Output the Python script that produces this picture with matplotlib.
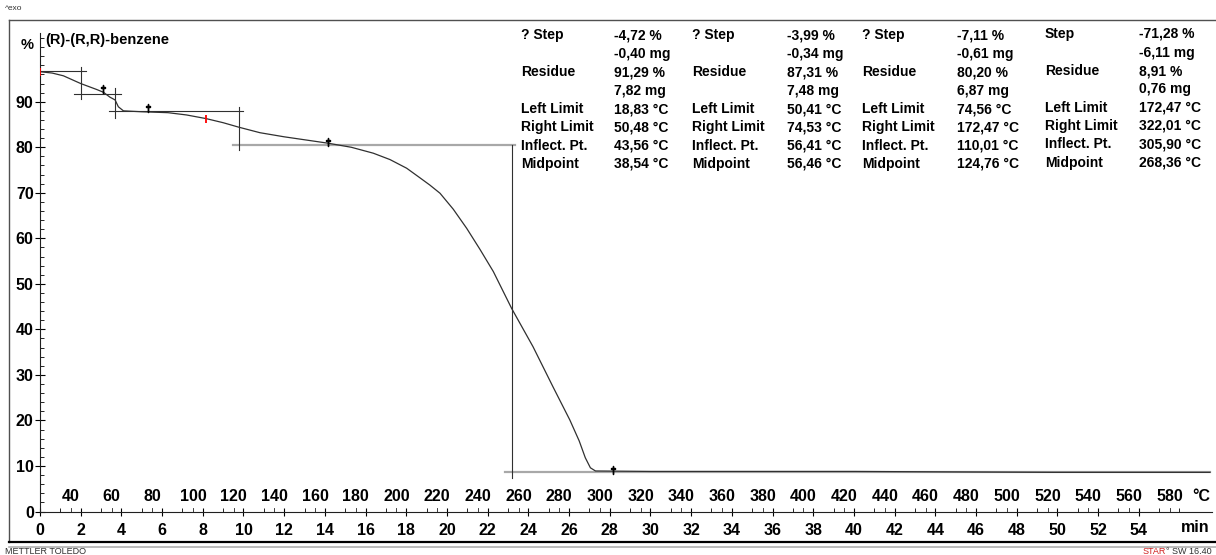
import matplotlib
matplotlib.use('Agg')
import matplotlib.pyplot as plt
from matplotlib.lines import Line2D

plt.rcParams['font.family'] = ['Liberation Sans', 'DejaVu Sans']

# TGA curve: time (min) and mass (%)
t_min = [0, 0.6, 1.15, 2.0, 2.78, 3.11, 3.44, 3.69, 3.85, 4.1, 5.0, 6.29, 7.2, 8.16,
         9.0, 9.78, 10.81, 12.0, 14.15, 15.3, 16.38, 17.2, 18.02, 18.67, 19.16,
         19.66, 20.31, 20.97, 21.62, 22.28, 23.18, 24.23, 25.21, 26.04, 26.5, 26.8,
         27.05, 27.3, 30.0, 40.0, 44.6, 49.8, 57.5]
mass = [96.6, 96.3, 95.7, 94.0, 92.7, 92.1, 91.0, 90.4, 88.9, 88.0, 87.8, 87.6,
        87.1, 86.3, 85.4, 84.4, 83.2, 82.3, 80.9, 80.0, 78.7, 77.3, 75.4, 73.3,
        71.7, 69.9, 66.4, 62.2, 57.6, 52.7, 44.6, 36.2, 27.4, 20.1, 15.5, 11.8,
        9.6, 8.9, 8.8, 8.8, 8.7, 8.6, 8.6]

# evaluation construction lines (t0, t1, y0, y1)
cross_lines = [
    (0, 2.26, 96.75, 96.75), (2.01, 2.01, 97.6, 90.6),
    (1.67, 4.0, 91.8, 91.8), (3.71, 3.71, 93.0, 86.4),
    (3.39, 10.0, 87.96, 87.96), (9.78, 9.78, 88.8, 79.4),
    (23.19, 23.19, 80.5, 7.4),
]
baselines = [(9.48, 23.33, 80.5, 80.5), (22.85, 57.5, 8.68, 8.68)]

red_t = [0, 8.16]
red_m = [96.6, 86.3]
mark_t = [3.1, 5.31, 14.15, 28.16]
mark_m = [92.9, 88.6, 81.2, 9.1]

time_ticks = list(range(0, 56, 2))
temp_ticks = list(range(40, 600, 20))
temp_start, heat_rate = 24.8, 10.0

y_ticks = list(range(0, 100, 10))

blocks = [
    (["? Step", "", "Residue", "", "Left Limit", "Right Limit", "Inflect. Pt.", "Midpoint"],
     ["-4,72 %", "-0,40 mg", "91,29 %", "7,82 mg", "18,83 °C", "50,48 °C", "43,56 °C", "38,54 °C"]),
    (["? Step", "", "Residue", "", "Left Limit", "Right Limit", "Inflect. Pt.", "Midpoint"],
     ["-3,99 %", "-0,34 mg", "87,31 %", "7,48 mg", "50,41 °C", "74,53 °C", "56,41 °C", "56,46 °C"]),
    (["? Step", "", "Residue", "", "Left Limit", "Right Limit", "Inflect. Pt.", "Midpoint"],
     ["-7,11 %", "-0,61 mg", "80,20 %", "6,87 mg", "74,56 °C", "172,47 °C", "110,01 °C", "124,76 °C"]),
    (["Step", "", "Residue", "", "Left Limit", "Right Limit", "Inflect. Pt.", "Midpoint"],
     ["-71,28 %", "-6,11 mg", "8,91 %", "0,76 mg", "172,47 °C", "322,01 °C", "305,90 °C", "268,36 °C"]),
]

W, H = 1216, 555
fig = plt.figure(figsize=(W / 100, H / 100), dpi=100)
ax = fig.add_axes([40 / W, 43.5 / H, (1212 - 40) / W, (522 - 43.5) / H])
ax.set_xlim(0, 57.6)
ax.set_ylim(0, 105.1)

for s in ['top', 'right']:
    ax.spines[s].set_visible(False)
for s in ['left', 'bottom']:
    ax.spines[s].set_linewidth(0.8)
    ax.spines[s].set_color('#202020')

for x0, x1, y0, y1 in baselines:
    ax.plot([x0, x1], [y0, y1], color='#a8a8a8', lw=1.6, zorder=1)
for x0, x1, y0, y1 in cross_lines:
    ax.plot([x0, x1], [y0, y1], color='#303030', lw=0.8, zorder=2)

ax.plot(t_min, mass, color='#303030', lw=0.9, zorder=3)
ax.plot(red_t, red_m, ls='none', marker='|', ms=6, mew=1.3, color='red', zorder=4)
ax.plot(mark_t, mark_m, ls='none', marker='$\u2020$', ms=6, color='black', zorder=4)

fs = 11.5
ax.set_yticks(y_ticks)
ax.set_yticks(range(0, 106, 2), minor=True)
ax.set_xticks(time_ticks)
ax.set_xticks(range(0, 57, 1), minor=True)
ax.tick_params(axis='y', which='major', direction='inout', length=7, width=0.8, pad=1)
ax.tick_params(axis='y', which='minor', direction='in', length=3, width=0.6)
ax.tick_params(axis='x', which='major', direction='inout', length=6, width=0.8, pad=5)
ax.tick_params(axis='x', which='minor', direction='in', length=3, width=0.6)
for lab in ax.get_xticklabels() + ax.get_yticklabels():
    lab.set_fontweight('bold')
    lab.set_fontsize(fs)

# temperature scale drawn above the time axis
for T in temp_ticks:
    tt = (T - temp_start) / heat_rate
    ax.text(tt, 3.2, str(T), ha='center', va='center', fontsize=fs, fontweight='bold')
    ax.plot([tt, tt], [0, 0.8], color='#202020', lw=0.6, clip_on=False)
ax.text(57.05, 3.2, "°C", ha='center', va='center', fontsize=fs, fontweight='bold')
ax.text(56.75, -3.45, "min", ha='center', va='center', fontsize=fs, fontweight='bold',
        clip_on=False)

# titles
fig.text(27 / W, 1 - 45 / H, "%", ha='center', va='center', fontsize=10.5, fontweight='bold')
fig.text(45 / W, 1 - 40 / H, "(R)-(R,R)-benzene", ha='left', va='center', fontsize=10.5,
         fontweight='bold')

# result table
label_x = [521, 692, 862, 1045]
value_x = [614, 787, 957, 1139]
row_y = [35.5, 54, 72.5, 90.5, 109, 127.5, 146, 164]
for i, (labels, values) in enumerate(blocks):
    dy = -1.5 if i == 3 else 0
    for j, (l, v) in enumerate(zip(labels, values)):
        yy = 1 - (row_y[j] + dy) / H
        if l:
            fig.text(label_x[i] / W, yy, l, ha='left', va='center', fontsize=10,
                     fontweight='bold')
        fig.text(value_x[i] / W, yy, v, ha='left', va='center', fontsize=10,
                 fontweight='bold')

# frame of the printout
fig.add_artist(Line2D([9 / W, 1], [1 - 20 / H] * 2, transform=fig.transFigure,
                      color='#505050', lw=1))
fig.add_artist(Line2D([9 / W] * 2, [1 - 20 / H, 1 - 542 / H], transform=fig.transFigure,
                      color='#505050', lw=1))
fig.add_artist(Line2D([9 / W, 1], [1 - 542 / H] * 2, transform=fig.transFigure,
                      color='black', lw=1.6))
fig.add_artist(Line2D([9 / W, 1], [1 - 546.5 / H] * 2, transform=fig.transFigure,
                      color='#b0b0b0', lw=1.2))

fig.text(5 / W, 1 - 8 / H, "^exo", ha='left', va='center', fontsize=6, color='#303030')
fig.text(5 / W, 1 - 551 / H, "METTLER TOLEDO", ha='left', va='center', fontsize=6.5,
         color='#303030')
fig.text(1 - 4 / W, 1 - 551 / H, "° SW 16.40", ha='right', va='center', fontsize=6.5,
         color='#303030')
fig.text(1 - 50 / W, 1 - 551 / H, "STAR", ha='right', va='center', fontsize=6.5,
         color='#d02020')

fig.savefig('out.png', dpi=100)
